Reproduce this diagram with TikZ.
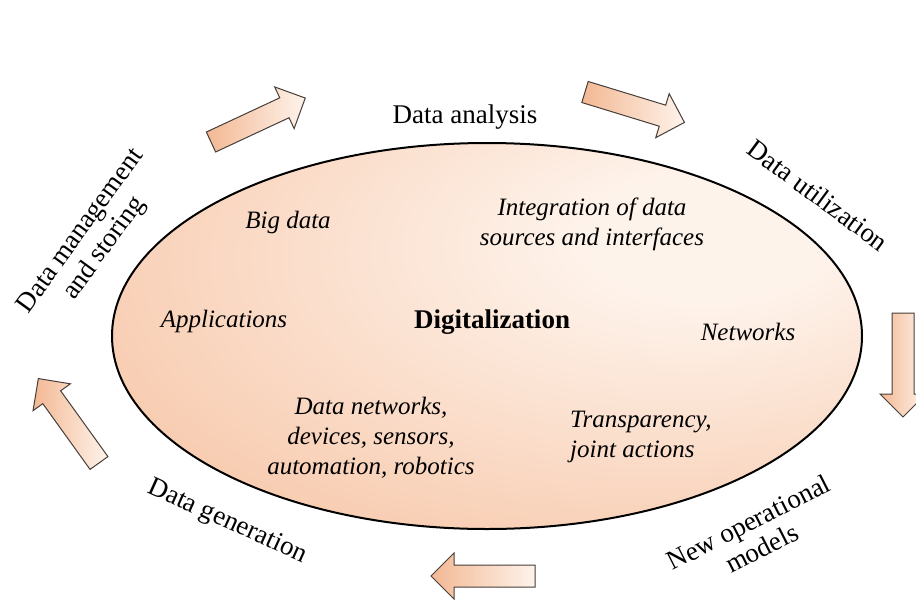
\documentclass[tikz,border=0pt]{standalone}
\usepackage{fontspec}
\setmainfont{Liberation Serif}[UprightFont={Liberation Serif}, ItalicFont={Liberation Serif Italic}, BoldFont={Liberation Serif Bold}, BoldItalicFont={Liberation Serif Bold Italic}]
\definecolor{peachD}{RGB}{243,184,147}
\definecolor{peachM}{RGB}{248,205,178}
\definecolor{peachL}{RGB}{254,243,235}
\definecolor{arrowedge}{RGB}{70,62,58}
\pgfdeclareradialshading{ellshade}{\pgfpoint{16bp}{14bp}}{color(0bp)=(peachL); color(8bp)=(peachL); color(38bp)=(peachM); color(70bp)=(peachD); color(100bp)=(peachD)}
\begin{document}
\begin{tikzpicture}[x=1pt,y=-1pt,
  outerlabel/.style={font=\fontsize{27}{29}\selectfont, inner sep=0pt, align=center},
  innerlabel/.style={font=\fontsize{25}{30}\selectfont\itshape, inner sep=0pt, align=center},
  blockarrow/.style={draw=arrowedge, line width=1pt, line join=miter, left color=peachD, right color=peachL},
  pics/barrow/.style={code={\path[blockarrow] (0,-11) -- (81,-11) -- (81,-23) -- (104,0) -- (81,23) -- (81,11) -- (0,11) -- cycle;}}]
\useasboundingbox (0,0) rectangle (916,600);
\clip (0,0) rectangle (916,600);
% central ellipse
\path[draw=black, line width=2pt, shading=ellshade] (487,336) ellipse [x radius=375, y radius=193];
\coordinate (ellc) at (487,336);
% inner texts
\node[font=\fontsize{27}{29}\selectfont\bfseries, inner sep=0pt] (dig) at (492,322) {Digitalization};
\node[innerlabel] (big) at (288,222) {Big data};
\node[innerlabel] (integ) at (592,224) {Integration of data\\sources and interfaces};
\node[innerlabel] (appl) at (224,321) {Applications};
\node[innerlabel] (netw) at (748,332) {Networks};
\node[innerlabel] (datan) at (371,438) {Data networks,\\devices, sensors,\\automation, robotics};
\node[innerlabel, align=left, anchor=west] (transp) at (570,437) {Transparency,\\joint actions};
% outer labels
\node[outerlabel] (analysis) at (465,117) {Data analysis};
\node[outerlabel, rotate=-36.5] (util) at (818,195) {Data utilization};
\node[outerlabel, rotate=27] (newop) at (755,535) {New operational\\models};
\node[outerlabel, rotate=-24.4] (gen) at (227,522) {Data generation};
\node[outerlabel, rotate=54] (manage) at (93,240) {Data management\\and storing};
% block arrows
\pic[rotate=25] at (211,142) {barrow};
\pic[rotate=-17] at (585,92) {barrow};
\pic[rotate=-90] at (903,313) {barrow};
\pic[rotate=180] at (535,576) {barrow};
\pic[rotate=125.7] at (99,463) {barrow};
\end{tikzpicture}
\end{document}
